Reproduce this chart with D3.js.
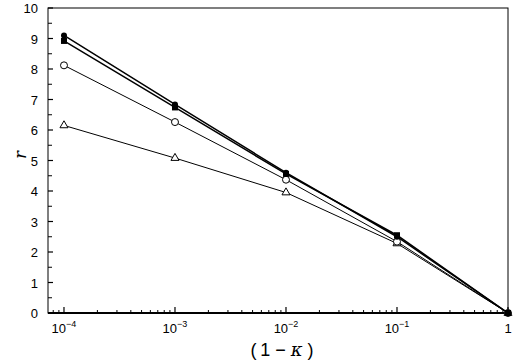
<!DOCTYPE html>
<html><head><meta charset="utf-8">
<script src="https://cdn.jsdelivr.net/npm/d3@7"></script>
<style>body{margin:0;background:#fff}svg{display:block}</style>
</head><body>
<svg id="c" width="513" height="360"></svg>
<script>
const xValues = [1e-4, 1e-3, 1e-2, 1e-1, 1];
const filledCircle = [9.1, 6.84, 4.6, 2.5, 0];
const filledSquare = [8.92, 6.74, 4.56, 2.55, 0];
const openCircle = [8.12, 6.26, 4.37, 2.34, 0];
const openTriangle = [6.15, 5.08, 3.95, 2.28, 0];
const yTicks = [0,1,2,3,4,5,6,7,8,9,10];
const xTickExp = [-4,-3,-2,-1,0];

const svg = d3.select("#c");
const L = 48, R = 508, T = 8, B = 313;
const x = d3.scaleLog().domain([Math.pow(10,-4.144), 1]).range([L, R]);
const y = d3.scaleLinear().domain([0, 10]).range([B, T]);
const font = "Liberation Sans, Arial, sans-serif";

svg.append("rect").attr("x", L).attr("y", T).attr("width", R-L).attr("height", B-T)
  .attr("fill","none").attr("stroke","#000").attr("stroke-width",1);

const yMinor = d3.range(0.5, 10, 1);
svg.append("g").selectAll("line").data(yTicks).join("line")
  .attr("x1", L).attr("x2", L+5).attr("y1", d=>y(d)).attr("y2", d=>y(d))
  .attr("stroke","#000").attr("stroke-width",1.2);
svg.append("g").selectAll("line").data(yMinor).join("line")
  .attr("x1", L).attr("x2", L+4).attr("y1", d=>y(d)).attr("y2", d=>y(d))
  .attr("stroke","#000");
svg.append("g").selectAll("text").data(yTicks).join("text")
  .attr("x", L-10).attr("y", d=>y(d)+5).attr("text-anchor","end")
  .attr("font-family", font).attr("font-size", 13).text(d=>d);

const xMinor = [];
xTickExp.slice(0,-1).forEach(e => { for (let k=2;k<=9;k++) xMinor.push(k*Math.pow(10,e)); });
[7e-5,8e-5,9e-5].forEach(v=>xMinor.push(v));
svg.append("g").selectAll("line").data(xTickExp).join("line")
  .attr("x1", d=>x(Math.pow(10,d))).attr("x2", d=>x(Math.pow(10,d)))
  .attr("y1", B).attr("y2", B-6).attr("stroke","#000").attr("stroke-width",1.2);
svg.append("g").selectAll("line").data(xMinor.filter(v=>x(v)>=L)).join("line")
  .attr("x1", d=>x(d)).attr("x2", d=>x(d))
  .attr("y1", B).attr("y2", B-3).attr("stroke","#000");
const xl = svg.append("g").selectAll("text").data(xTickExp).join("text")
  .attr("x", d=>x(Math.pow(10,d))).attr("y", 333).attr("text-anchor","middle")
  .attr("font-family", font).attr("font-size", 13);
xl.each(function(d){
  const t = d3.select(this);
  if (d === 0) { t.text("1"); return; }
  t.append("tspan").text("10");
  t.append("tspan").attr("dy", -6).attr("font-size", 9).text("\u2212" + (-d));
});

svg.append("line").attr("x1",L).attr("x2",R).attr("y1",B).attr("y2",B).attr("stroke","#000").attr("stroke-width",2);

svg.append("text").attr("transform", "translate(26,155) rotate(-90)")
  .attr("text-anchor","middle").attr("font-family","DejaVu Serif, serif")
  .attr("font-style","italic").attr("font-size",16).text("r");
const xt = svg.append("text").attr("x", 282).attr("y", 356).attr("text-anchor","middle")
  .attr("font-family", font).attr("font-size", 18);
xt.append("tspan").text("(\u20091 \u2212 ");
xt.append("tspan").attr("font-style","italic").attr("font-family","DejaVu Serif, serif").text("\u03ba");
xt.append("tspan").text(" )");

const line = d3.line().x((d,i)=>x(xValues[i])).y(d=>y(d));
function drawLine(vals, w) {
  svg.append("path").datum(vals).attr("d", line).attr("fill","none").attr("stroke","#000").attr("stroke-width", w);
}
drawLine(openTriangle, 1);
drawLine(openCircle, 1);
drawLine(filledSquare, 1.5);
drawLine(filledCircle, 1.5);

svg.append("g").selectAll("path").data(openTriangle).join("path")
  .attr("d", d3.symbol().type(d3.symbolTriangle).size(28))
  .attr("transform", (d,i)=>`translate(${x(xValues[i])},${y(d)})`)
  .attr("fill","#fff").attr("stroke","#000");
svg.append("g").selectAll("circle").data(openCircle).join("circle")
  .attr("cx",(d,i)=>x(xValues[i])).attr("cy", d=>y(d)).attr("r",3.5)
  .attr("fill","#fff").attr("stroke","#000");
svg.append("g").selectAll("rect").data(filledSquare).join("rect")
  .attr("x",(d,i)=>x(xValues[i])-3).attr("y", d=>y(d)-3).attr("width",6).attr("height",6)
  .attr("fill","#000");
svg.append("g").selectAll("circle").data(filledCircle).join("circle")
  .attr("cx",(d,i)=>x(xValues[i])).attr("cy", d=>y(d)).attr("r",3)
  .attr("fill","#000");
</script>
</body></html>
